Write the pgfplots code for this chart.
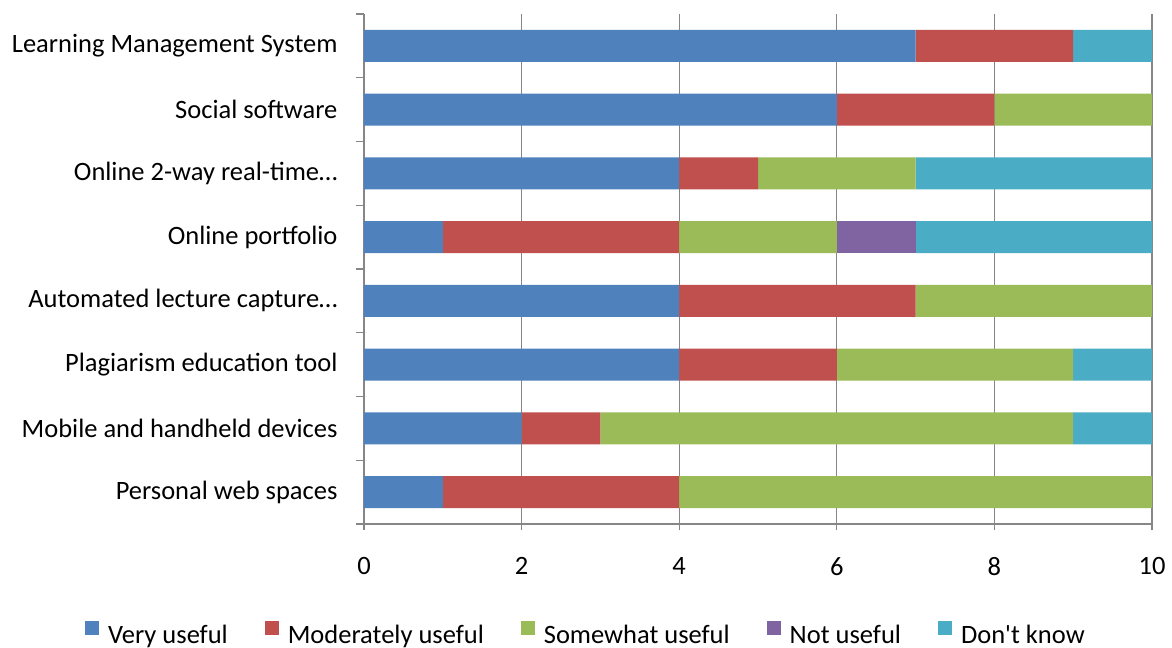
\documentclass[border=0pt]{standalone}
\usepackage{pgfplots}
\usepackage{pgfplotstable}
\pgfplotsset{compat=1.18}
\usepackage{fontspec}
\setmainfont{Carlito}[Ligatures=TeXOff]

\definecolor{cVU}{HTML}{4F81BD}
\definecolor{cMU}{HTML}{C0504D}
\definecolor{cSU}{HTML}{9BBB59}
\definecolor{cNU}{HTML}{8064A2}
\definecolor{cDK}{HTML}{4BACC6}
\definecolor{axgray}{HTML}{868686}

% responses per tool (row 0 = bottom category)
\pgfplotstableread{
idx VU MU SU NU DK
0   1  3  6  0  0
1   2  1  6  0  1
2   4  2  3  0  1
3   4  3  3  0  0
4   1  3  2  1  3
5   4  1  2  0  3
6   6  2  2  0  0
7   7  2  0  0  1
}\usefulness

\newcommand{\chartfont}{\fontsize{26.5}{31}\selectfont}

\begin{document}
\begin{tikzpicture}
\begin{axis}[
  name=ax,
  scale only axis,
  width=788pt, height=510pt,
  xbar stacked,
  bar width=32pt,
  xmin=0, xmax=10,
  ymin=-0.5, ymax=7.5,
  xtick={0,2,...,10},
  ytick={0,...,7},
  yticklabels={Personal web spaces,
               Mobile and handheld devices,
               Plagiarism education tool,
               Automated lecture capture…,
               Online portfolio,
               Online 2-way real-time…,
               Social software,
               Learning Management System},
  minor ytick={-0.5,0.5,...,7.5},
  axis lines*=left,
  axis line style={draw=axgray, line width=1.6pt},
  xmajorgrids,
  grid style={draw=axgray, line width=1.3pt},
  tick align=outside,
  major tick length=6pt,
  minor tick length=8pt,
  every tick/.style={draw=axgray, line width=1.3pt},
  every major y tick/.append style={draw=none},
  /pgf/number format/assume math mode=true,
  tick label style={font=\chartfont, text=black},
  yticklabel style={xshift=-17pt},
  xticklabel style={yshift=-24pt},
  legend style={at={(0.2817,-0.2157)}, anchor=center, draw=none,
                font=\chartfont, inner sep=1pt},
  legend columns=-1,
  legend cell align=left,
  legend image code/.code={\fill[#1] (0pt,0pt) rectangle (14pt,14pt);},
  /tikz/every odd column/.append style={column sep=7pt},
  /tikz/every even column/.append style={column sep=35pt},
]
\addplot[fill=cVU, draw=none] table[x=VU, y=idx] {\usefulness};
\addplot[fill=cMU, draw=none] table[x=MU, y=idx] {\usefulness};
\addplot[fill=cSU, draw=none] table[x=SU, y=idx] {\usefulness};
\addplot[fill=cNU, draw=none] table[x=NU, y=idx] {\usefulness};
\addplot[fill=cDK, draw=none] table[x=DK, y=idx] {\usefulness};
\legend{Very useful, Moderately useful, Somewhat useful, Not useful, Don't know}
\end{axis}
\path ([shift={(-364pt,-122pt)}]ax.south west) rectangle
      ([shift={(20pt,14pt)}]ax.north east);
\end{tikzpicture}
\end{document}
